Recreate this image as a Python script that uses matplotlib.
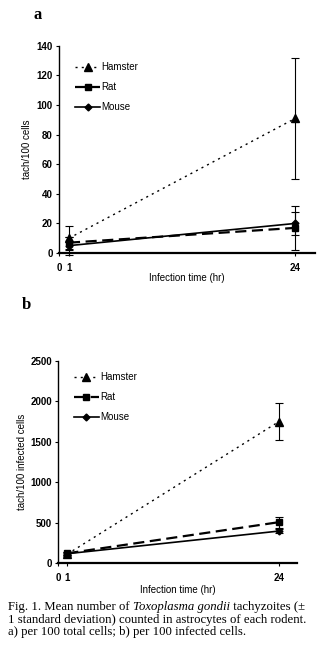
import matplotlib
matplotlib.use('Agg')
from matplotlib import pyplot as plt
from matplotlib.lines import Line2D

plt.rcParams['font.family'] = ['Liberation Sans', 'DejaVu Sans']

# infection time (hr)
hours = [1, 24]

# a) per 100 total cells
a_hamster = [10, 91]
a_hamster_sd = [8, 41]
a_rat = [7, 17]
a_rat_sd = [4, 15]
a_mouse = [5, 20]
a_mouse_sd = [6, 8]

# b) per 100 infected cells
b_hamster = [110, 1750]
b_hamster_sd = [20, 230]
b_rat = [120, 505]
b_rat_sd = [15, 70]
b_mouse = [115, 395]
b_mouse_sd = [10, 20]

xticks = [0, 1, 24]
a_yticks = [0, 20, 40, 60, 80, 100, 120, 140]
b_yticks = [0, 500, 1000, 1500, 2000, 2500]

fig = plt.figure(figsize=(3.23, 6.65), dpi=100)
ax_a = fig.add_axes([0.183, 0.6195, 0.792, 0.3115])
ax_b = fig.add_axes([0.180, 0.1534, 0.740, 0.3036])

styles = {
    'Hamster': dict(ls=(0, (1.5, 3)), lw=1.0, marker='^', ms=5.5),
    'Rat': dict(ls=(0, (5, 2.5)), lw=1.6, marker='s', ms=5),
    'Mouse': dict(ls='-', lw=1.2, marker='D', ms=3.5),
}


def draw(ax, ham, ham_sd, rat, rat_sd, mou, mou_sd, ylim, yticks, ylabel,
         xlpad, ylpad, leg_y):
    for name, y, sd in [('Hamster', ham, ham_sd), ('Rat', rat, rat_sd), ('Mouse', mou, mou_sd)]:
        ax.errorbar(hours, y, yerr=sd, color='black', capsize=2.8,
                    elinewidth=0.8, capthick=0.8, clip_on=False, **styles[name])
    ax.set_xlim(0, 26)
    ax.set_ylim(*ylim)
    ax.set_xticks(xticks)
    ax.set_xticklabels([str(t) for t in xticks], fontsize=7, fontweight='bold')
    ax.set_yticks(yticks)
    ax.set_yticklabels([str(t) for t in yticks], fontsize=7, fontweight='bold')
    ax.tick_params(length=2.5, width=0.8, pad=2)
    ax.tick_params(axis='x', pad=5)
    ax.spines['top'].set_visible(False)
    ax.spines['right'].set_visible(False)
    ax.spines['left'].set_linewidth(1.0)
    ax.spines['bottom'].set_linewidth(1.6)
    ax.set_xlabel('Infection time (hr)', fontsize=7, labelpad=xlpad)
    ax.set_ylabel(ylabel, fontsize=7, labelpad=ylpad)
    handles = [Line2D([], [], color='black', **styles[n]) for n in styles]
    ax.legend(handles, list(styles), loc='upper left', bbox_to_anchor=(0.04, leg_y),
              frameon=False, fontsize=7, handlelength=2.6, handletextpad=0.1,
              labelspacing=1.05, borderaxespad=0.2)


draw(ax_a, a_hamster, a_hamster_sd, a_rat, a_rat_sd, a_mouse, a_mouse_sd,
     (0, 140), a_yticks, 'tach/100 cells', 0, 3, 0.95)
draw(ax_b, b_hamster, b_hamster_sd, b_rat, b_rat_sd, b_mouse, b_mouse_sd,
     (0, 2500), b_yticks, 'tach/100 infected cells', 1, 2, 0.975)

fig.text(33 / 323, 1 - 15 / 665, 'a', fontsize=12, fontweight='bold',
         family='Liberation Serif', ha='left', va='center')
fig.text(22 / 323, 1 - 305 / 665, 'b', fontsize=12, fontweight='bold',
         family='Liberation Serif', ha='left', va='center')

# caption, with the species name in italics
caption = [[('Fig. 1. Mean number of ', 'normal'), ('Toxoplasma gondii', 'italic'),
            (' tachyzoites (\u00b1', 'normal')],
           [('1 standard deviation) counted in astrocytes of each rodent.', 'normal')],
           [('a) per 100 total cells; b) per 100 infected cells.', 'normal')]]
renderer = fig.canvas.get_renderer()
for i, line in enumerate(caption):
    x = 8 / 323
    y = 1 - (607 + i * 12.5) / 665
    for piece, style in line:
        t = fig.text(x, y, piece, fontsize=9.2, family='Liberation Serif',
                     style=style, ha='left', va='center')
        bb = t.get_window_extent(renderer=renderer)
        x += bb.width / fig.bbox.width

fig.savefig('out.png', dpi=100)
